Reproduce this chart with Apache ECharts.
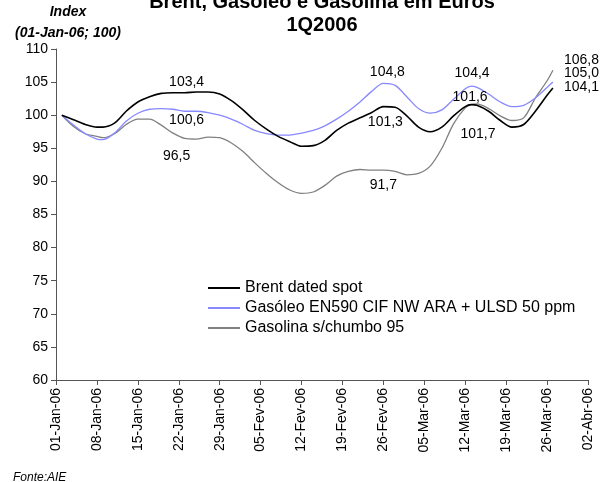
<!DOCTYPE html>
<html>
<head>
<meta charset="utf-8">
<script src="https://cdn.jsdelivr.net/npm/echarts@6/dist/echarts.min.js"></script>
<style>
html, body { margin: 0; padding: 0; background: #fff; }
#chart { width: 600px; height: 482px; }
</style>
</head>
<body>
<div id="chart"></div>
<script>
// tick labels, one per week from 01-Jan-06
var tickLabels = ['01-Jan-06', '08-Jan-06', '15-Jan-06', '22-Jan-06', '29-Jan-06', '05-Fev-06', '12-Fev-06',
  '19-Fev-06', '26-Fev-06', '05-Mar-06', '12-Mar-06', '19-Mar-06', '26-Mar-06', '02-Abr-06'];

// days since 01-Jan-06
var days = [1, 3, 5, 7, 8, 10, 12, 14, 16, 18, 20, 22, 24, 26, 28, 30, 32, 34, 36, 38, 40, 42, 44, 46, 48,
  50, 52, 54, 56, 58, 60, 62, 64, 66, 68, 70, 71, 72, 74, 76, 78, 80, 82, 84, 85];

var brent = [100.0, 99.3, 98.6, 98.2, 98.2, 98.8, 100.6, 102.0, 102.8, 103.3, 103.4, 103.4, 103.5, 103.5, 103.2,
  102.2, 100.8, 99.2, 97.9, 96.8, 96.0, 95.3, 95.4, 96.2, 97.7, 98.8, 99.6, 100.4, 101.3, 101.2, 99.9, 98.2,
  97.5, 98.2, 99.9, 101.3, 101.6, 101.5, 100.6, 99.2, 98.2, 98.6, 100.6, 103.0, 104.1];

var gasoleo = [100.0, 98.5, 97.2, 96.4, 96.3, 97.3, 99.1, 100.3, 100.9, 101.0, 100.9, 100.6, 100.6, 100.4, 100.0,
  99.4, 98.6, 97.7, 97.2, 97.0, 97.0, 97.3, 97.7, 98.4, 99.4, 100.6, 102.0, 103.6, 104.8, 104.5, 102.8, 101.0,
  100.3, 100.8, 102.4, 104.0, 104.4, 104.2, 103.2, 102.0, 101.3, 101.5, 102.6, 104.2, 105.0];

var gasolina = [100.0, 98.3, 97.2, 96.8, 96.6, 97.2, 98.6, 99.4, 99.4, 98.5, 97.3, 96.5, 96.4, 96.7, 96.6,
  95.8, 94.5, 92.8, 91.2, 89.8, 88.7, 88.2, 88.4, 89.4, 90.8, 91.5, 91.8, 91.7, 91.7, 91.5, 91.0, 91.2,
  92.3, 95.0, 98.7, 101.1, 101.6, 101.7, 101.0, 99.9, 99.2, 99.6, 102.6, 105.2, 106.8];

var names = ['Brent dated spot', 'Gasóleo EN590 CIF NW ARA + ULSD 50 ppm', 'Gasolina s/chumbo 95'];
var colors = ['#000000', '#8888ff', '#808080'];
var widths = [1.6, 1.3, 1.3];

// which points carry a value label, and where the label sits
var labelled = [
  {s: 0, day: 22, pos: 'top', dist: 4, dx: 2, dy: 0},
  {s: 1, day: 22, pos: 'bottom', dist: 2, dx: 2, dy: 0},
  {s: 2, day: 22, pos: 'bottom', dist: 11, dx: -8, dy: 0},
  {s: 1, day: 56, pos: 'top', dist: 4, dx: 4, dy: 0},
  {s: 0, day: 56, pos: 'bottom', dist: 9, dx: 2, dy: 0},
  {s: 2, day: 56, pos: 'bottom', dist: 8, dx: 0, dy: 0},
  {s: 1, day: 71, pos: 'top', dist: 6, dx: 1, dy: 0},
  {s: 0, day: 71, pos: 'top', dist: 0, dx: -1, dy: 0},
  {s: 2, day: 72, pos: 'bottom', dist: 23, dx: 1, dy: 0},
  {s: 2, day: 85, pos: 'right', dist: 11, dx: 0, dy: -10},
  {s: 1, day: 85, pos: 'right', dist: 11, dx: 0, dy: -9},
  {s: 0, day: 85, pos: 'right', dist: 11, dx: 0, dy: -1}
];

var font = 'Liberation Sans, Arial, sans-serif';

function fmt(v) {
  return v.toFixed(1).replace('.', ',');
}

function buildData(idx, values) {
  return days.map(function (d, i) {
    var item = {value: [d, values[i]]};
    labelled.forEach(function (l) {
      if (l.s === idx && l.day === d) {
        item.label = {
          show: true, position: l.pos, distance: l.dist, offset: [l.dx, l.dy],
          formatter: function (p) { return fmt(p.value[1]); },
          color: '#000', fontSize: 14, fontFamily: font
        };
      }
    });
    return item;
  });
}

var allValues = [brent, gasoleo, gasolina];
var series = allValues.map(function (vals, i) {
  return {
    name: names[i],
    type: 'line',
    smooth: 0.3,
    symbol: 'circle',
    symbolSize: 0,
    showSymbol: true,
    z: 3 - i,
    lineStyle: {color: colors[i], width: widths[i]},
    itemStyle: {color: colors[i]},
    label: {show: false},
    emphasis: {disabled: true},
    data: buildData(i, vals)
  };
});

var chart = echarts.init(document.getElementById('chart'));
var option = {
  animation: false,
  backgroundColor: '#ffffff',
  textStyle: {fontFamily: font},
  title: [
    {
      text: 'Brent, Gasóleo e Gasolina em Euros\n1Q2006',
      left: 317, top: -14, textAlign: 'center',
      textStyle: {fontSize: 20, fontWeight: 'bold', color: '#000', lineHeight: 23, fontFamily: font}
    },
    {
      text: 'Index\n(01-Jan-06; 100)',
      left: 63, top: -3, textAlign: 'center',
      textStyle: {fontSize: 14, fontWeight: 'bold', fontStyle: 'italic', color: '#000', lineHeight: 21, fontFamily: font}
    },
    {
      text: 'Fonte:AIE',
      left: 8, top: 467,
      textStyle: {fontSize: 12, fontWeight: 'normal', fontStyle: 'italic', color: '#000', fontFamily: font}
    }
  ],
  legend: {
    orient: 'vertical',
    left: 203,
    top: 275,
    itemWidth: 32,
    itemHeight: 2,
    itemGap: 4,
    icon: 'rect',
    data: names,
    textStyle: {fontSize: 16, color: '#000', fontFamily: font}
  },
  grid: {left: 56, right: 12, top: 49, bottom: 102},
  xAxis: {
    type: 'value',
    min: 0,
    max: 91,
    interval: 7,
    axisLine: {lineStyle: {color: '#555', width: 1}},
    axisTick: {show: true, length: 5, lineStyle: {color: '#555'}},
    splitLine: {show: false},
    axisLabel: {
      rotate: 90, margin: 8, fontSize: 14, color: '#000', fontFamily: font,
      formatter: function (v) { return tickLabels[Math.round(v / 7)]; }
    }
  },
  yAxis: {
    type: 'value',
    min: 60,
    max: 110,
    interval: 5,
    axisLine: {show: true, lineStyle: {color: '#555', width: 1}},
    axisTick: {show: true, length: 5, lineStyle: {color: '#555'}},
    splitLine: {show: false},
    axisLabel: {fontSize: 14, color: '#000', margin: 8, fontFamily: font}
  },
  series: series
};
chart.setOption(option);
</script>
</body>
</html>
